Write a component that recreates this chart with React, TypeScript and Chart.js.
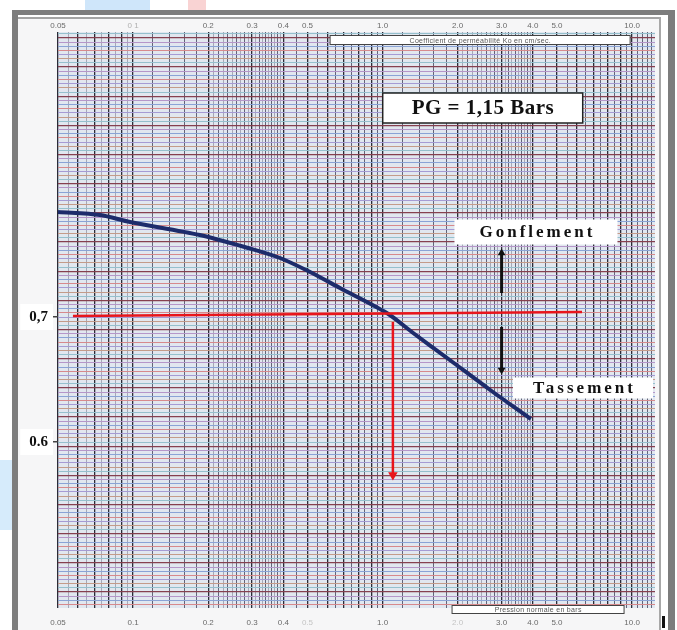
import React, { useEffect, useRef } from "react";
import { Chart, registerables } from "chart.js";

Chart.register(...registerables);

// ---------- data ----------
// consolidation curve (pressure in bars, void ratio)
const CURVE_P = [0.05, 0.0737, 0.0972, 0.185, 0.289, 0.388, 0.512, 0.675, 1.04, 1.31, 1.86, 2.7, 3.93];
const CURVE_E = [0.784, 0.7816, 0.776, 0.7656, 0.7552, 0.7472, 0.736, 0.7232, 0.7032, 0.688, 0.6656, 0.6416, 0.6184];

// red horizontal reference line at e0 = 0,7
const E0_LINE_P = [0.0574, 6.3];
const E0_LINE_E = [0.7008, 0.704];

// red drop line at the swelling pressure
const PG_DROP_P = [1.1, 1.1];
const PG_DROP_E = [0.696, 0.5736];

// black arrows (gonflement up, tassement down)
const SWELL_ARROW_P = [3.0, 3.0];
const SWELL_ARROW_E = [0.7192, 0.7512];
const SETTLE_ARROW_P = [3.0, 3.0];
const SETTLE_ARROW_E = [0.692, 0.6576];

// axis tick labels
const X_TICK_VALUES = [0.05, 0.1, 0.2, 0.3, 0.4, 0.5, 1, 2, 3, 4, 5, 10];
const X_TOP_LABELS = ["0.05", "0 1", "0.2", "0.3", "0.4", "0.5", "1.0", "2.0", "3.0", "4.0", "5.0", "10.0"];
const X_BOTTOM_LABELS = ["0.05", "0.1", "0.2", "0.3", "0.4", "0.5", "1.0", "2.0", "3.0", "4.0", "5.0", "10.0"];
const Y_TICK_VALUES = [0.6, 0.7];
const Y_LABELS = ["0.6", "0,7"];

// text notes (anchored in data coordinates)
const NOTE_TEXTS = ["PG = 1,15 Bars", "Gonflement", "Tassement", "Coefficient de perméabilité Ko en cm/sec.", "Pression normale en bars"];
const NOTE_P = [2.52, 4.12, 6.36, 2.46, 4.2];
const NOTE_E = [0.8672, 0.768, 0.6432, 0.9216, 0.466];

// axis ranges
const X_MIN = 0.05;
const X_MAX = 12.36;
const Y_MIN = 0.4672;
const Y_MAX = 0.928;

// ---------- graph-paper rulings ----------
function buildVerticalRulings(): number[] {
  const out: number[] = [];
  const add = (a: number, b: number, step: number) => {
    for (let v = a; v <= b + 1e-9; v += step) out.push(+v.toFixed(4));
  };
  add(0.05, 0.1, 0.005);
  add(0.12, 0.2, 0.02);
  add(0.21, 0.4, 0.01);
  add(0.45, 1.0, 0.05);
  add(1.2, 2.0, 0.2);
  add(2.1, 4.0, 0.1);
  add(4.5, 10, 0.5);
  add(10.5, 12, 0.5);
  return out;
}
const V_RULINGS = buildVerticalRulings();
const MAJOR_V = [0.05, 0.06, 0.07, 0.08, 0.09, 0.1, 0.2, 0.3, 0.4, 0.5, 0.6, 0.7, 0.8, 0.9, 1, 2, 3, 4, 5, 6, 7, 8, 9, 10];

function vKind(v: number): number {
  if (MAJOR_V.some((m) => Math.abs(m - v) < 1e-6)) return 2;
  // faint half-rulings
  if (v < 0.1 && Math.abs(v * 100 - Math.round(v * 100)) > 0.1) return 0;
  if (v > 0.2 && v < 0.4 && Math.round(v * 100) % 2 === 1) return 0;
  if (v > 2 && v < 4 && Math.round(v * 10) % 2 === 1) return 0;
  return 1;
}

function buildHorizontalRulings(): number[] {
  const out: number[] = [];
  const start = Math.ceil(Y_MIN * 300);
  const end = Math.floor(Y_MAX * 300);
  for (let k = start; k <= end; k++) out.push(k / 300);
  return out;
}
const H_RULINGS = buildHorizontalRulings();
const H_COLORS = ["#d7898c", "#8aa3d6", "#b596c9", "#d6c384", "#95c0cd", "#c49b89", "#a59bd4"];

const notesPlugin = {
  id: "notes",
  afterDraw(chart: any) {
    const { ctx } = chart;
    const xs = chart.scales.x;
    const ys = chart.scales.y;
    const styles = [
      { w: 200, h: 30, font: "bold 21px 'Liberation Serif', serif", spacing: 0.5, color: "#111", border: "#222", bw: 1.5 },
      { w: 163, h: 25, font: "bold 17px 'Liberation Serif', serif", spacing: 3, color: "#111", border: null, bw: 0 },
      { w: 140, h: 21, font: "bold 17px 'Liberation Serif', serif", spacing: 3, color: "#111", border: null, bw: 0 },
      { w: 300, h: 9, font: "7px 'Liberation Sans', sans-serif", spacing: 0.3, color: "#555", border: "#444", bw: 1 },
      { w: 172, h: 8, font: "7px 'Liberation Sans', sans-serif", spacing: 0.3, color: "#555", border: "#444", bw: 1 },
    ];
    NOTE_TEXTS.forEach((text, i) => {
      const s = styles[i];
      const cx = xs.getPixelForValue(NOTE_P[i]);
      const cy = ys.getPixelForValue(NOTE_E[i]);
      ctx.save();
      ctx.fillStyle = "#ffffff";
      ctx.fillRect(cx - s.w / 2, cy - s.h / 2, s.w, s.h);
      if (s.border) {
        ctx.strokeStyle = s.border;
        ctx.lineWidth = s.bw;
        ctx.strokeRect(cx - s.w / 2, cy - s.h / 2, s.w, s.h);
      }
      ctx.font = s.font;
      ctx.fillStyle = s.color;
      (ctx as any).letterSpacing = s.spacing + "px";
      ctx.textAlign = "center";
      ctx.textBaseline = "middle";
      ctx.fillText(text, cx + s.spacing / 2, cy + 1);
      ctx.restore();
    });
  },
};

const paperPlugin = {
  id: "paper",
  beforeDraw(chart: any) {
    const { ctx, chartArea, width, height } = chart;
    ctx.save();
    ctx.fillStyle = "#ffffff";
    ctx.fillRect(0, 0, width, height);
    ctx.fillStyle = "#f6f6f7";
    ctx.fillRect(18, 19, 641, height - 19);
    ctx.fillStyle = "#e1e7ef";
    ctx.fillRect(chartArea.left, chartArea.top, chartArea.right - chartArea.left, chartArea.bottom - chartArea.top);
    ctx.restore();
  },
};

const pts = (xs: number[], ys: number[]) => xs.map((x, i) => ({ x, y: ys[i] }));

export default function App() {
  const ref = useRef<HTMLCanvasElement | null>(null);

  useEffect(() => {
    if (!ref.current) return;
    const lineBase = { showLine: true, pointHoverRadius: 0, xAxisID: "x", yAxisID: "y" };
    const chart = new Chart(ref.current, {
      type: "scatter",
      data: {
        datasets: [
          {
            ...lineBase,
            label: "e0",
            data: pts(E0_LINE_P, E0_LINE_E),
            borderColor: "#e8151c",
            borderWidth: 2.5,
            pointRadius: 0,
          },
          {
            ...lineBase,
            label: "courbe",
            data: pts(CURVE_P, CURVE_E),
            borderColor: "#1d2c6b",
            borderWidth: 4,
            pointRadius: 0,
            tension: 0.3,
          },
          {
            ...lineBase,
            label: "PG",
            data: pts(PG_DROP_P, PG_DROP_E),
            borderColor: "#e8151c",
            borderWidth: 2.5,
            pointRadius: [0, 5.5],
            pointStyle: "triangle",
            rotation: 180,
            pointBackgroundColor: "#e8151c",
            pointBorderColor: "#e8151c",
            pointBorderWidth: 0,
          },
          {
            ...lineBase,
            label: "gonflement",
            data: pts(SWELL_ARROW_P, SWELL_ARROW_E),
            borderColor: "#111",
            borderWidth: 3,
            pointRadius: [0, 4.5],
            pointStyle: "triangle",
            rotation: 0,
            pointBackgroundColor: "#111",
            pointBorderColor: "#111",
            pointBorderWidth: 0,
          },
          {
            ...lineBase,
            label: "tassement",
            data: pts(SETTLE_ARROW_P, SETTLE_ARROW_E),
            borderColor: "#111",
            borderWidth: 3,
            pointRadius: [0, 4.5],
            pointStyle: "triangle",
            rotation: 180,
            pointBackgroundColor: "#111",
            pointBorderColor: "#111",
            pointBorderWidth: 0,
          },
        ] as any,
      },
      options: {
        animation: false,
        responsive: false,
        events: [],
        layout: { padding: { right: 22, left: 0, top: 0, bottom: 0 } },
        plugins: { legend: { display: false }, tooltip: { enabled: false } },
        scales: {
          x: {
            type: "logarithmic",
            position: "bottom",
            min: X_MIN,
            max: X_MAX,
            border: { display: false },
            ticks: { display: false, autoSkip: false },
            grid: {
              drawTicks: false,
              color: (c: any) => {
                const k = vKind(c.tick?.value);
                return k === 2 ? "#2b2b36" : k === 1 ? "#55556a" : "#8c8c9e";
              },
              lineWidth: (c: any) => {
                const k = vKind(c.tick?.value);
                return k === 2 ? 1.3 : k === 1 ? 0.9 : 0.7;
              },
            },
            afterBuildTicks: (s: any) => {
              s.ticks = V_RULINGS.map((v) => ({ value: v }));
            },
            afterFit: (s: any) => {
              s.height = 0;
            },
          },
          xBottom: {
            type: "logarithmic",
            position: "bottom",
            min: X_MIN,
            max: X_MAX,
            border: { display: false },
            grid: { display: false, drawTicks: false },
            ticks: {
              autoSkip: false,
              maxRotation: 0,
              padding: 10,
              font: { family: "'Liberation Sans', sans-serif", size: 8 },
              color: (c: any) => (c.index === 5 || c.index === 7 ? "#c4c4c4" : "#6a6a6a"),
              callback: (_v: any, i: number) => X_BOTTOM_LABELS[i],
            },
            afterBuildTicks: (s: any) => {
              s.ticks = X_TICK_VALUES.map((v) => ({ value: v }));
            },
            afterFit: (s: any) => {
              s.height = 22;
            },
          },
          xTop: {
            type: "logarithmic",
            position: "top",
            min: X_MIN,
            max: X_MAX,
            border: { display: false },
            grid: { display: false, drawTicks: false },
            ticks: {
              autoSkip: false,
              maxRotation: 0,
              padding: 1,
              font: { family: "'Liberation Sans', sans-serif", size: 8 },
              color: (c: any) => (c.index === 1 ? "#b0b0b0" : "#6a6a6a"),
              callback: (_v: any, i: number) => X_TOP_LABELS[i],
            },
            afterBuildTicks: (s: any) => {
              s.ticks = X_TICK_VALUES.map((v) => ({ value: v }));
            },
            afterFit: (s: any) => {
              s.height = 32;
            },
          },
          y: {
            type: "linear",
            position: "left",
            min: Y_MIN,
            max: Y_MAX,
            border: { display: false },
            ticks: { display: false, autoSkip: false },
            grid: {
              drawTicks: false,
              color: (c: any) => (c.index % 7 === 3 ? "#86404f" : H_COLORS[c.index % H_COLORS.length]),
              lineWidth: (c: any) => (c.index % 7 === 3 ? 1.2 : 1),
            },
            afterBuildTicks: (s: any) => {
              s.ticks = H_RULINGS.map((v) => ({ value: v }));
            },
            afterFit: (s: any) => {
              s.width = 0;
            },
          },
          yLabel: {
            type: "linear",
            position: "left",
            min: Y_MIN,
            max: Y_MAX,
            border: { display: false },
            grid: { display: true, drawOnChartArea: false, drawTicks: true, tickLength: 6, color: "#444", lineWidth: 1.5 },
            ticks: {
              autoSkip: false,
              padding: 4,
              font: { family: "'Liberation Serif', serif", size: 15, weight: "bold" },
              color: "#111",
              showLabelBackdrop: true,
              backdropColor: "#ffffff",
              backdropPadding: { top: 4, bottom: 4, left: 9, right: 5 },
              callback: (_v: any, i: number) => Y_LABELS[i],
            },
            afterBuildTicks: (s: any) => {
              s.ticks = Y_TICK_VALUES.map((v) => ({ value: v }));
            },
            afterFit: (s: any) => {
              s.width = 58;
            },
          },
        } as any,
      },
      plugins: [paperPlugin, notesPlugin],
    });
    return () => chart.destroy();
  }, []);

  const band = (l: number, t: number, w: number, h: number, bg: string): React.CSSProperties => ({
    position: "absolute",
    left: l,
    top: t,
    width: w,
    height: h,
    background: bg,
    pointerEvents: "none",
  });

  return (
    <div style={{ position: "absolute", left: 0, top: 0, width: 677, height: 630, background: "#fff", overflow: "hidden" }}>
      <canvas ref={ref} width={677} height={630} style={{ position: "absolute", left: 0, top: 0, width: 677, height: 630 }} />
      <div style={band(85, 0, 65, 10, "#cfe6fa")} />
      <div style={band(188, 0, 18, 10, "#f9d3d3")} />
      <div style={band(0, 460, 12, 70, "#d6ebfb")} />
      <div style={band(12, 10, 6, 620, "#7d7d7d")} />
      <div style={band(12, 10, 663, 5, "#7d7d7d")} />
      <div style={band(18, 17, 641, 2, "#a4a4a4")} />
      <div style={band(668, 10, 7, 620, "#7d7d7d")} />
      <div style={band(659, 17, 2, 613, "#a8a8a8")} />
      <div style={band(662, 616, 3, 12, "#111")} />
    </div>
  );
}
